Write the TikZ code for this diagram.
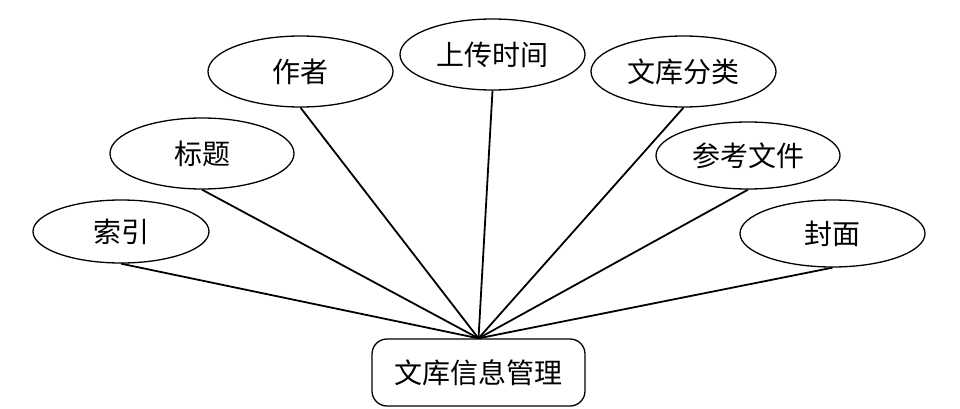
\documentclass[tikz,border=0pt]{standalone}
\usepackage{fontspec}
\newfontfamily\cjk{Noto Sans CJK SC}
\usetikzlibrary{shapes.geometric}

\begin{document}
\begin{tikzpicture}[x=1pt,y=-1pt,
  attr/.style={ellipse, draw, line width=1.3pt, inner sep=0pt,
    minimum width=185pt, minimum height=71pt, font=\cjk\fontsize{28}{30}\selectfont},
  entity/.style={rectangle, rounded corners=15pt, draw, line width=1.3pt,
    minimum width=213pt, minimum height=67pt, font=\cjk\fontsize{28}{30}\selectfont},
  link/.style={line width=1.8pt}]

% Fix the canvas to the picture size
\useasboundingbox (0,0) rectangle (960,409);

% The entity
\node[entity] (mgmt) at (478.5,372.5) {文库信息管理};

% Its attributes
\node[attr, minimum width=176pt, minimum height=63pt] (suoyin) at (121,231.5) {索引};
\node[attr, minimum width=184pt] (biaoti) at (202,153.5) {标题};
\node[attr] (zuozhe) at (300.5,71.5) {作者};
\node[attr] (shijian) at (492.5,54.5) {上传时间};
\node[attr] (fenlei) at (683.5,71.5) {文库分类};
\node[attr, minimum width=184pt, minimum height=67pt] (cankao) at (748,155.5) {参考文件};
\node[attr, minimum height=67pt] (fengmian) at (832.5,233.5) {封面};

% Connect each attribute to the entity
\foreach \a in {suoyin,biaoti,zuozhe,shijian,fenlei,cankao,fengmian}
  \draw[link] (\a.south) -- (mgmt.north);
\end{tikzpicture}
\end{document}
